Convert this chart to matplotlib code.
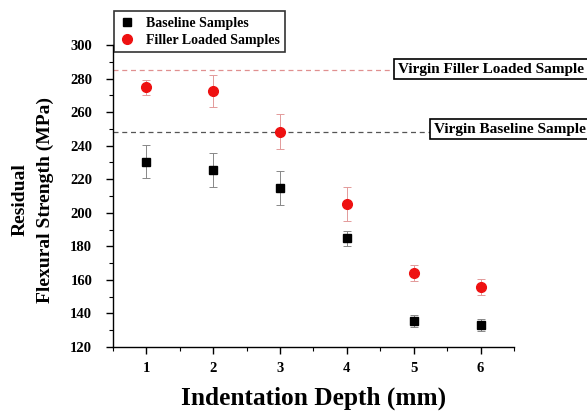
import matplotlib
matplotlib.use("Agg")
import matplotlib.pyplot as plt
from matplotlib.lines import Line2D
from matplotlib.ticker import MultipleLocator

depth = [1, 2, 3, 4, 5, 6]
baseline = [230.5, 225.7, 214.7, 184.8, 135.5, 133.2]
baseline_err = [10.0, 10.2, 10.0, 4.6, 3.5, 3.4]
filler = [274.7, 272.6, 248.3, 205.2, 164.2, 155.8]
filler_err = [4.7, 9.3, 10.4, 10.0, 4.8, 4.7]
virgin_filler = 285.3
virgin_baseline = 248.3

plt.rcParams['font.family'] = ['Liberation Serif']
plt.rcParams['font.weight'] = 'bold'

fig = plt.figure(figsize=(5.87, 4.12), dpi=100)
ax = fig.add_axes([0.1925, 0.1578, 0.6831, 0.7330])

ax.axhline(virgin_filler, color='#e09090', ls=(0, (4, 3)), lw=0.9, zorder=1)
ax.axhline(virgin_baseline, color='#555555', ls=(0, (4, 3)), lw=0.9, zorder=1)

ax.errorbar(depth, baseline, yerr=baseline_err, fmt='s', color='black', ms=6,
            ecolor='#888888', elinewidth=0.7, capsize=3, capthick=0.7, zorder=3)
ax.errorbar(depth, filler, yerr=filler_err, fmt='o', color='#ee1111', ms=7,
            ecolor='#e39a9a', elinewidth=0.7, capsize=3, capthick=0.7, zorder=3)

ax.set_xlim(0.5, 6.5)
ax.set_ylim(120, 300)
ax.xaxis.set_major_locator(MultipleLocator(1))
ax.xaxis.set_minor_locator(MultipleLocator(0.5))
ax.yaxis.set_major_locator(MultipleLocator(20))
ax.yaxis.set_minor_locator(MultipleLocator(10))
for s in ['top', 'right']:
    ax.spines[s].set_visible(False)
for s in ['left', 'bottom']:
    ax.spines[s].set_linewidth(1.0)
ax.tick_params(which='major', direction='out', length=5, width=1, labelsize=10.5)
ax.tick_params(axis='y', which='major', pad=10)
ax.tick_params(axis='x', which='major', pad=6)
ax.tick_params(which='minor', direction='out', length=3, width=0.8)
for lab in ax.get_xticklabels() + ax.get_yticklabels():
    lab.set_fontweight('bold')

ax.set_xlabel('Indentation Depth (mm)', fontsize=18.3, fontweight='bold', labelpad=8)
fig.text(0.035, 0.515, 'Residual', rotation=90, fontsize=14, fontweight='bold',
         ha='center', va='center')
fig.text(0.077, 0.515, 'Flexural Strength (MPa)', rotation=90, fontsize=14,
         fontweight='bold', ha='center', va='center')

box = dict(boxstyle='square,pad=0.25', facecolor='white', edgecolor='black', lw=1.2)
ax.text(398 / 587, 1 - 69 / 412, 'Virgin Filler Loaded Sample', transform=fig.transFigure,
        fontsize=11, fontweight='bold', ha='left', va='center', bbox=box, zorder=4,
        clip_on=False)
ax.text(434 / 587, 1 - 129 / 412, 'Virgin Baseline Sample', transform=fig.transFigure,
        fontsize=11, fontweight='bold', ha='left', va='center', bbox=box, zorder=4,
        clip_on=False)

handles = [Line2D([], [], marker='s', color='black', ls='none', ms=5.5),
           Line2D([], [], marker='o', color='#ee1111', ls='none', ms=7)]
leg = fig.legend(handles, ['Baseline Samples', 'Filler Loaded Samples'],
                 loc='upper left', bbox_to_anchor=(114 / 587, 1 - 11 / 412),
                 borderaxespad=0, frameon=True, fancybox=False, handlelength=1.0,
                 handletextpad=0.9, borderpad=0.4, labelspacing=0.3,
                 prop={'weight': 'bold', 'size': 10})
leg.get_frame().set_edgecolor('black')
leg.get_frame().set_linewidth(1.2)

fig.savefig('out.png', dpi=100)
